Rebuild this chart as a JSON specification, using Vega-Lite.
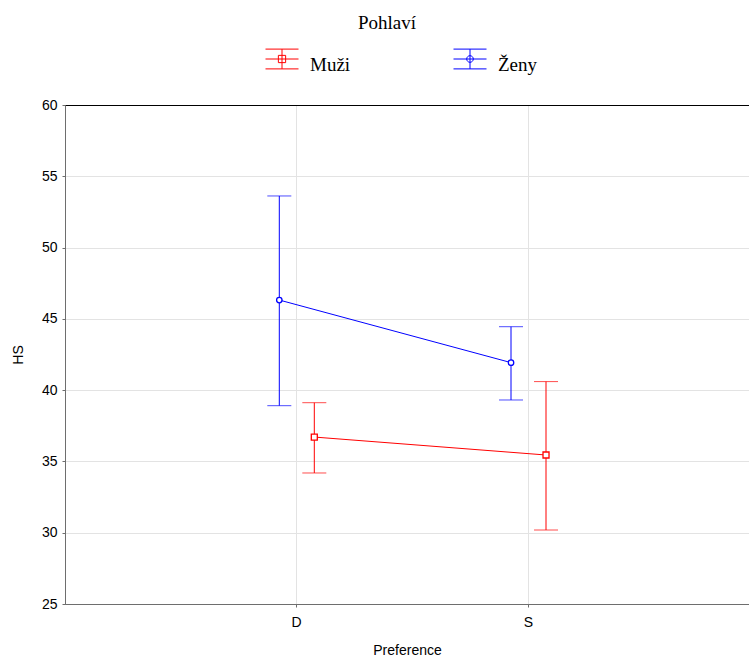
{
  "$schema": "https://vega.github.io/schema/vega-lite/v6.json",
  "width": 684,
  "height": 499,
  "autosize": {"type": "none"},
  "padding": {"left": 65, "top": 105, "right": 0, "bottom": 55},
  "background": "white",
  "config": {
    "view": {"stroke": "#000000", "strokeWidth": 1},
    "axis": {
      "labelFont": "Liberation Sans",
      "titleFont": "Liberation Sans",
      "labelFontSize": 14,
      "titleFontSize": 14,
      "labelColor": "#000000",
      "titleColor": "#000000",
      "titleFontWeight": "normal",
      "domainColor": "#6e6e6e",
      "tickColor": "#6e6e6e",
      "gridWidth": 1
    }
  },
  "data": {
    "values": [
      {"Preference": "D", "Pohlaví": "Muži", "mean": 36.71, "lo": 34.19, "hi": 39.12},
      {"Preference": "S", "Pohlaví": "Muži", "mean": 35.45, "lo": 30.19, "hi": 40.6},
      {"Preference": "D", "Pohlaví": "Ženy", "mean": 46.32, "lo": 38.91, "hi": 53.62},
      {"Preference": "S", "Pohlaví": "Ženy", "mean": 41.93, "lo": 39.31, "hi": 44.45}
    ]
  },
  "encoding": {
    "x": {
      "field": "Preference",
      "type": "nominal",
      "scale": {"type": "band", "domain": ["D", "S"], "paddingInner": 0, "paddingOuter": 0.476, "align": 0.525},
      "axis": {"labelAngle": 0, "title": "Preference", "tickSize": 3, "labelPadding": 8, "titlePadding": 14, "grid": true, "gridColor": "#e3e3e3", "bandPosition": 0.5}
    },
    "xOffset": {
      "field": "Pohlaví",
      "type": "nominal",
      "scale": {"domain": ["Ženy", "Muži"], "range": [81, 151], "paddingInner": 0, "paddingOuter": 0}
    },
    "color": {
      "field": "Pohlaví",
      "type": "nominal",
      "scale": {"domain": ["Muži", "Ženy"], "range": ["#ff0000", "#0000ff"]},
      "legend": {
        "orient": "none",
        "legendX": 200,
        "legendY": -91,
        "direction": "horizontal",
        "title": "Pohlaví",
        "titleFont": "Liberation Serif",
        "titleFontSize": 19,
        "titleFontWeight": "normal",
        "titleColor": "#000000",
        "titleAnchor": "middle",
        "titlePadding": 9,
        "labelFont": "Liberation Serif",
        "labelFontSize": 19,
        "labelColor": "#000000",
        "labelOffset": 11,
        "columnPadding": 100,
        "symbolSize": 1089,
        "symbolStrokeWidth": 1,
        "symbolFillColor": "transparent",
        "symbolType": "M-1,-0.6H1M-1,0H1M-1,0.6H1M0,-0.6V0.6M-0.22,-0.22H0.22V0.22H-0.22Z",
        "encode": {
          "title": {"update": {"dx": {"value": -14}}},
          "symbols": {
            "update": {
              "shape": {"signal": "datum.value == 'Muži' ? 'M-1,-0.6H1M-1,0H1M-1,0.6H1M0,-0.6V0.6M-0.22,-0.22H0.22V0.22H-0.22Z' : 'M-1,-0.6H1M-1,0H1M-1,0.6H1M0,-0.6V0.6M-0.2,0A0.2,0.2 0 1,0 0.2,0A0.2,0.2 0 1,0 -0.2,0Z'"},
              "fillOpacity": {"value": 0},
              "strokeOpacity": {"value": 1},
              "stroke": {"signal": "datum.value == 'Muži' ? '#ff0000' : '#0000ff'"},
              "strokeWidth": {"value": 1}
            }
          },
          "labels": {"update": {"dy": {"value": 6}}}
        }
      }
    }
  },
  "layer": [
    {
      "mark": {"type": "rule", "strokeWidth": 1},
      "encoding": {
        "y": {
          "field": "lo",
          "type": "quantitative",
          "scale": {"domain": [25, 60], "nice": false, "zero": false},
          "axis": {
            "values": [25, 30, 35, 40, 45, 50, 55, 60],
            "title": "HS",
            "tickSize": 3,
            "labelPadding": 5,
            "titlePadding": 16,
            "grid": true,
            "gridColor": {"condition": {"test": "datum.value == 60", "value": "#000000"}, "value": "#e3e3e3"}
          }
        },
        "y2": {"field": "hi"}
      }
    },
    {
      "mark": {"type": "tick", "size": 24, "thickness": 1},
      "encoding": {"y": {"field": "lo", "type": "quantitative"}}
    },
    {
      "mark": {"type": "tick", "size": 24, "thickness": 1},
      "encoding": {"y": {"field": "hi", "type": "quantitative"}}
    },
    {
      "mark": {"type": "line", "strokeWidth": 1},
      "encoding": {"y": {"field": "mean", "type": "quantitative"}}
    },
    {
      "transform": [{"filter": "datum['Pohlaví'] == 'Muži'"}],
      "mark": {"type": "point", "shape": "square", "filled": false, "strokeWidth": 1.3, "fill": "white", "fillOpacity": 1, "opacity": 1, "size": 36},
      "encoding": {"y": {"field": "mean", "type": "quantitative"}}
    },
    {
      "transform": [{"filter": "datum['Pohlaví'] == 'Ženy'"}],
      "mark": {"type": "point", "shape": "circle", "filled": false, "strokeWidth": 1.3, "fill": "white", "fillOpacity": 1, "opacity": 1, "size": 30},
      "encoding": {"y": {"field": "mean", "type": "quantitative"}}
    }
  ]
}
